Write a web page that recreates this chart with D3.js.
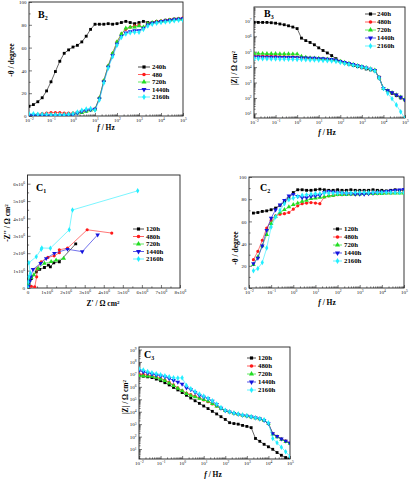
<!DOCTYPE html>
<html><head><meta charset="utf-8">
<script src="https://cdn.jsdelivr.net/npm/d3@7"></script>
<style>body{margin:0;background:#fff}svg{display:block}</style>
</head><body>
<svg id="c" width="414" height="489"></svg>
<script>
// ---------- DATA ----------
const logF = [-2,-1.8,-1.6,-1.4,-1.2,-1,-0.8,-0.6,-0.4,-0.2,0,0.2,0.4,0.6,0.8,1,1.2,1.4,1.6,1.8,2,2.2,2.4,2.6,2.8,3,3.2,3.4,3.6,3.8,4,4.2,4.4,4.6,4.8,5];
const logF_C2 = [-1.8,-1.6,-1.4,-1.2,-1,-0.8,-0.6,-0.4,-0.2,0,0.2,0.4,0.6,0.8,1,1.2,1.4,1.6,1.8,2,2.2,2.4,2.6,2.8,3,3.2,3.4,3.6,3.8,4,4.2,4.4,4.6,4.8,5];

const namesB2 = ["240h","480","720h","1440h","2160h"];
const namesB3 = ["240h","480h","720h","1440h","2160h"];
const namesC  = ["120h","480h","720h","1440h","2160h"];

// B2: phase angle (-theta, degree)
const B2_240  = [8.5,10,12.5,16,22,30,39,48,55,58,60.5,62,65,70,76,80.5,80.5,80.5,81,80.5,81,82,83,82,81,82,83,82,82,83,83,84,84.5,85,85,85];
const B2_480  = [1,1,1.5,2,2.5,3,3,3,2.5,2.5,2.5,3,4,5,5.5,6,16,31,44,55,65,72,76,78,79,80,77,81,82,83,83.5,84,84.5,85,85.5,86];
const B2_720  = [1,1,1,1,1,1,1,1,1,1.5,2,2.5,3,4,5,6,16,31,44,55,65,72,77,78,78,79,78,81,82,82.5,83,83.5,84,84.5,85,85];
const B2_1440 = [0.5,0.5,0.5,0.5,0.5,0.5,0.5,0.5,0.5,0.8,1,2.5,4,5,5.5,6,15,30,43,53,63,70,73,74,75,75,77,80,81.5,82,83,83.5,84,84.5,85,85.5];
const B2_2160 = [2,2,1.5,1.5,1.5,1,1,1,1,1.5,2,3.5,5,6,6.5,5,14,29,42,52,62,69,72,73,73.5,73.5,76,79,80.5,81.5,82,82.5,83,83.5,84,84];

// B3: log10 |Z| (ohm cm2)
const B3_240  = [6.9,6.9,6.9,6.9,6.88,6.85,6.8,6.75,6.68,6.6,6.5,5.88,5.72,5.6,5.45,5.25,5.08,4.92,4.75,4.55,4.38,4.27,4.18,4.1,4.03,3.96,3.88,3.82,3.76,3.35,2.62,2.45,2.3,2.15,2.0,1.86];
const B3_480  = [4.72,4.72,4.71,4.71,4.7,4.7,4.69,4.68,4.67,4.66,4.65,4.62,4.6,4.58,4.57,4.56,4.54,4.52,4.49,4.45,4.38,4.31,4.24,4.17,4.1,4.03,3.96,3.88,3.8,3.3,2.62,2.48,2.34,2.2,2.05,1.9];
const B3_720  = [4.88,4.88,4.88,4.87,4.87,4.87,4.86,4.86,4.86,4.85,4.85,4.7,4.64,4.6,4.58,4.56,4.54,4.52,4.49,4.45,4.38,4.31,4.24,4.17,4.1,4.03,3.96,3.88,3.8,3.3,2.62,2.48,2.34,2.2,2.05,1.9];
const B3_1440 = [4.67,4.67,4.66,4.66,4.65,4.65,4.64,4.64,4.63,4.63,4.62,4.61,4.6,4.59,4.58,4.56,4.55,4.53,4.5,4.45,4.38,4.32,4.25,4.18,4.1,4.03,3.96,3.88,3.8,3.3,2.62,2.48,2.35,2.2,2.05,1.88];
const B3_2160 = [4.55,4.55,4.54,4.54,4.53,4.53,4.52,4.52,4.51,4.51,4.5,4.49,4.48,4.47,4.46,4.45,4.43,4.42,4.4,4.36,4.3,4.24,4.18,4.12,4.06,4.0,3.94,3.86,3.75,3.3,2.62,2.3,1.95,1.55,1.1,0.68];

// C1: Nyquist, units of 1x10^6 ohm cm2
const C1_120_re  = [0.02,0.08,0.2,0.46,0.64,0.89,1.1,1.2,1.38,1.67,2.53];
const C1_120_im  = [0.05,0.25,0.54,0.93,1.07,1.18,1.32,1.22,1.45,1.51,2.54];
const C1_480_re  = [0.02,0.2,0.38,0.48,0.5,0.72,1.07,1.4,1.67,1.67,2.1,3.13,4.42];
const C1_480_im  = [0.05,0.1,0.06,0.64,1.1,1.51,1.76,1.85,2.03,2.2,2.29,3.35,3.16];
const C1_720_re  = [0.01,0.03,0.1,0.2,0.33,0.55,0.89,1.24,1.5,1.9];
const C1_720_im  = [0.02,0.25,0.45,0.6,0.75,1.13,1.42,1.51,1.6,1.7];
const C1_1440_re = [0.01,0.05,0.12,0.17,0.29,0.69,0.98,1.41,2.1,2.87,3.68];
const C1_1440_im = [0.05,0.1,0.4,0.64,1.07,1.42,1.7,2.0,2.23,2.09,3.06];
const C1_2160_re = [0.01,0.03,0.07,0.15,0.07,0.46,0.72,0.75,1.2,2.19,2.36,5.78];
const C1_2160_im = [0.05,0.35,0.65,0.85,1.45,1.8,2.23,2.3,2.29,3.35,4.49,5.59];

// C2: phase angle
const C2_120  = [67.5,68,69,69.5,70.5,72,74.5,77.5,81,86,88.5,88.5,88,88,88.5,89,88.5,88,88,88.5,88,88,88.5,88,88,88,88,88.5,88,88,87.5,88,88.5,88,88];
const C2_480  = [25.5,33,43,54,61,65,66.5,67,68,71,74,76,76.5,77,76.5,76,82,83,83.5,84,84,84.5,84.5,84.5,85,85,85,85,85,85.5,85.5,85.5,86,86,86];
const C2_720  = [21,28,38,48,58,64.5,68,70.5,73,75,76.5,78,79,80.5,81,81.5,82,83,83.5,84,84,84,84.5,84.5,84.5,85,85,85,85,85,85.5,85.5,85.5,85.5,85.5];
const C2_1440 = [22,27,38,52,63,70.5,75,79,83,84.5,82.5,81.5,81.5,82.5,83,83.5,86,87,86.5,86,85.5,85,85,84.5,84.5,84.5,85,85.5,86,86.5,87,87.5,88,88.5,89];
const C2_2160 = [15.5,17.5,23,36,55,64,70,76,79.5,81,82.5,83.5,84,84.5,85,85,85.5,85.5,85.5,85.5,85.5,85.5,85.5,86,86,86,86,86,86,86,86,86,86,86,86];

// C3: log10 |Z|
const C3_120  = [6.9,6.85,6.8,6.74,6.62,6.49,6.33,6.15,5.95,5.75,5.54,5.32,5.1,4.88,4.67,4.46,4.25,4.03,3.82,3.6,3.38,3.12,3.05,3.0,2.9,2.82,2.72,1.85,1.62,1.38,1.18,0.98,0.72,0.5,0.32,0.2];
const C3_480  = [7.05,7.0,6.93,6.88,6.78,6.68,6.55,6.35,6.15,5.92,5.7,5.5,5.38,5.25,5.1,4.95,4.8,4.62,4.45,4.25,4.1,3.98,3.88,3.8,3.72,3.66,3.58,3.5,3.42,3.3,3.05,2.25,2.02,1.82,1.65,1.49];
const C3_720  = [6.9,6.88,6.85,6.83,6.75,6.62,6.5,6.3,6.1,5.88,5.68,5.45,5.3,5.18,5.07,4.97,4.85,4.65,4.45,4.27,4.08,3.98,3.88,3.8,3.72,3.66,3.58,3.5,3.42,3.3,3.05,2.2,1.98,1.78,1.6,1.45];
const C3_1440 = [7.3,7.2,7.1,7.02,6.95,6.89,6.8,6.66,6.52,6.38,6.22,5.92,5.78,5.55,5.32,5.18,5.05,4.85,4.6,4.3,4.08,3.98,3.88,3.8,3.72,3.66,3.58,3.5,3.42,3.3,3.05,2.25,2.02,1.82,1.65,1.49];
const C3_2160 = [7.45,7.35,7.22,7.13,7.05,6.97,6.88,6.8,6.72,6.7,6.72,6.1,5.85,5.62,5.42,5.25,5.08,4.88,4.62,4.33,4.12,4.0,3.9,3.82,3.74,3.67,3.6,3.52,3.44,3.35,3.1,1.85,1.5,1.15,0.78,0.41];

// tick values
const decadeTicks = [-2,-1,0,1,2,3,4,5];
const phaseTicks = [0,20,40,60,80,100];
const B3_logTicks = [1,2,3,4,5,6,7];
const C3_logTicks = [1,2,3,4,5,6,7,8,9];
const C1_xTicks = [0,1,2,3,4,5,6,7,8];
const C1_yTicks = [0,1,2,3,4,5,6];
const C1_exp = "6";

// ---------- STYLE ----------
const colors = ["#000000","#ff1a1a","#22dd22","#1414dd","#22eeff"];
const symbols = [
  {s:d3.symbolSquare, r:0, size:8},
  {s:d3.symbolCircle, r:0, size:8},
  {s:d3.symbolTriangle, r:0, size:9},
  {s:d3.symbolTriangle, r:180, size:9},
  {s:d3.symbolDiamond, r:0, size:9}
];
const SERIF = "'Liberation Serif','Times New Roman',serif";
const svg = d3.select("#c");

const minorLog = [];
for (let n=-2;n<5;n++) for (let m=2;m<=9;m++) minorLog.push(n+Math.log10(m));

function sup(sel, fn){
  sel.selectAll(".tick text").each(function(d){
    const p = fn(d); const t = d3.select(this);
    t.text(p[0]);
    if (p[1] !== "") t.append("tspan").attr("dy","-0.45em").attr("font-size","0.72em").text(p[1]);
  });
}

function panel(cfg){
  const g = svg.append("g");
  const x = d3.scaleLinear().domain(cfg.xd).range([cfg.l,cfg.r]);
  const y = d3.scaleLinear().domain(cfg.yd).range([cfg.b,cfg.t]);
  const clipId = "clip"+cfg.id;
  svg.append("clipPath").attr("id",clipId).append("rect")
    .attr("x",cfg.l).attr("y",cfg.t).attr("width",cfg.r-cfg.l).attr("height",cfg.b-cfg.t);

  const gx = g.append("g").attr("transform",`translate(0,${cfg.b})`)
    .call(d3.axisBottom(x).tickValues(cfg.xt).tickSize(-3).tickPadding(2.5));
  g.append("g").attr("transform",`translate(0,${cfg.b})`)
    .call(d3.axisBottom(x).tickValues(cfg.xm).tickSize(-1.6).tickFormat(""));
  const gy = g.append("g").attr("transform",`translate(${cfg.l},0)`)
    .call(d3.axisLeft(y).tickValues(cfg.yt).tickSize(-3).tickPadding(2.5));
  g.append("g").attr("transform",`translate(${cfg.l},0)`)
    .call(d3.axisLeft(y).tickValues(cfg.ym).tickSize(-1.6).tickFormat(""));
  g.selectAll(".domain").remove();
  g.selectAll(".tick line").attr("stroke","#222").attr("stroke-width",0.6);
  g.selectAll(".tick text").attr("font-family",SERIF).attr("font-size",5).attr("fill","#111");
  sup(gx, cfg.xf); sup(gy, cfg.yf);

  g.append("rect").attr("x",cfg.l).attr("y",cfg.t).attr("width",cfg.r-cfg.l).attr("height",cfg.b-cfg.t)
    .attr("fill","none").attr("stroke","#222").attr("stroke-width",0.9);

  const dg = g.append("g").attr("clip-path",`url(#${clipId})`);
  cfg.series.forEach((s,i)=>{
    const pts = s.xs.map((v,k)=>[v,s.ys[k]]);
    dg.append("path").datum(pts)
      .attr("d", d3.line().x(d=>x(d[0])).y(d=>y(d[1])))
      .attr("fill","none").attr("stroke",colors[i]).attr("stroke-width",0.6);
    const sym = symbols[i];
    dg.selectAll(null).data(pts).enter().append("path")
      .attr("d", d3.symbol().type(sym.s).size(sym.size))
      .attr("transform", d=>`translate(${x(d[0])},${y(d[1])}) rotate(${sym.r})`)
      .attr("fill",colors[i]);
  });

  cfg.names.forEach((n,i)=>{
    const yy = cfg.leg.y[i];
    g.append("line").attr("x1",cfg.leg.x1).attr("x2",cfg.leg.x2).attr("y1",yy).attr("y2",yy)
      .attr("stroke",colors[i]).attr("stroke-width",0.7);
    const sym = symbols[i];
    g.append("path").attr("d", d3.symbol().type(sym.s).size(sym.size+2))
      .attr("transform",`translate(${(cfg.leg.x1+cfg.leg.x2)/2},${yy}) rotate(${sym.r})`)
      .attr("fill",colors[i]);
    g.append("text").attr("x",cfg.leg.tx).attr("y",yy).attr("dy","0.34em")
      .attr("font-family",SERIF).attr("font-weight","bold").attr("font-size",6.8).text(n);
  });

  const pl = g.append("text").attr("x",cfg.pl[0]).attr("y",cfg.pl[1])
    .attr("font-family",SERIF).attr("font-weight","bold").attr("font-size",10);
  pl.append("tspan").text(cfg.plab[0]);
  pl.append("tspan").attr("dy",2).attr("font-size",6).text(cfg.plab[1]);

  const xt = g.append("text").attr("x",cfg.xtp[0]).attr("y",cfg.xtp[1]).attr("text-anchor","middle")
    .attr("font-family",SERIF).attr("font-weight","bold").attr("font-size",7.5);
  cfg.xtitle(xt);
  const yt = g.append("text").attr("transform",`translate(${cfg.ytp[0]},${cfg.ytp[1]}) rotate(-90)`)
    .attr("text-anchor","middle")
    .attr("font-family",SERIF).attr("font-weight","bold").attr("font-size",7.5);
  cfg.ytitle(yt);
}

const decFmt = d => ["10", String(d).replace("-","\u2212")];
const plainFmt = d => [String(d), ""];
const expFmt = d => d===0 ? ["0",""] : [d+"x10", C1_exp];

const fTitle = t => { t.append("tspan").attr("font-style","italic").text("f"); t.append("tspan").text(" / Hz"); };
const phTitle = t => { t.text("-\u03B8 / degree"); };
const zTitle = t => { t.append("tspan").text("|Z| / \u03A9 cm"); t.append("tspan").attr("dy",-2.5).attr("font-size",5).text("2"); };
const reTitle = t => { t.append("tspan").text("Z' / \u03A9  cm"); t.append("tspan").attr("dy",-2.5).attr("font-size",5).text("2"); };
const imTitle = t => { t.append("tspan").text("-Z'' / \u03A9 cm"); t.append("tspan").attr("dy",-2.5).attr("font-size",5).text("2"); };

const phaseMinor = [10,30,50,70,90];
const logMinorB3 = [];
for (let n=0;n<8;n++) for (let m=2;m<=9;m++){ const v=n+Math.log10(m); if (v>0.7 && v<7.9) logMinorB3.push(v); }
const logMinorC3 = [];
for (let n=0;n<10;n++) for (let m=2;m<=9;m++){ const v=n+Math.log10(m); if (v>0.2 && v<9.2) logMinorC3.push(v); }

panel({id:"B2", l:29, r:183, t:2, b:116, xd:[-2,5], yd:[0,100],
  xt:decadeTicks, xm:minorLog, yt:phaseTicks, ym:phaseMinor, xf:decFmt, yf:plainFmt,
  series:[B2_240,B2_480,B2_720,B2_1440,B2_2160].map(v=>({xs:logF, ys:v})),
  names:namesB2, leg:{x1:138,x2:150,tx:152,y:[67,74.5,82,89.5,97]},
  pl:[38,18], plab:["B","2"], xtp:[106,130], ytp:[14,60], xtitle:fTitle, ytitle:phTitle});

panel({id:"B3", l:254, r:405, t:7, b:118, xd:[-2,5], yd:[0.7,7.9],
  xt:decadeTicks, xm:minorLog, yt:B3_logTicks, ym:logMinorB3, xf:decFmt, yf:decFmt,
  series:[B3_240,B3_480,B3_720,B3_1440,B3_2160].map(v=>({xs:logF, ys:v})),
  names:namesB3, leg:{x1:365,x2:376,tx:377,y:[14,22,30,38,46]},
  pl:[264,17], plab:["B","3"], xtp:[327,135], ytp:[237,68], xtitle:fTitle, ytitle:zTitle});

panel({id:"C1", l:27.5, r:180, t:175, b:288, xd:[0,8], yd:[0,6.5],
  xt:C1_xTicks, xm:[0.5,1.5,2.5,3.5,4.5,5.5,6.5,7.5], yt:C1_yTicks, ym:[0.5,1.5,2.5,3.5,4.5,5.5], xf:expFmt, yf:expFmt,
  series:[
    {xs:C1_120_re, ys:C1_120_im},{xs:C1_480_re, ys:C1_480_im},{xs:C1_720_re, ys:C1_720_im},
    {xs:C1_1440_re, ys:C1_1440_im},{xs:C1_2160_re, ys:C1_2160_im}],
  names:namesC, leg:{x1:133,x2:144,tx:146,y:[229,236.5,244,251.5,259]},
  pl:[36,191], plab:["C","1"], xtp:[103,306], ytp:[10,223], xtitle:reTitle, ytitle:imTitle});

panel({id:"C2", l:249, r:404, t:177, b:288, xd:[-2,5], yd:[0,100],
  xt:decadeTicks, xm:minorLog, yt:phaseTicks, ym:phaseMinor, xf:decFmt, yf:plainFmt,
  series:[C2_120,C2_480,C2_720,C2_1440,C2_2160].map(v=>({xs:logF_C2, ys:v})),
  names:namesC, leg:{x1:333,x2:342,tx:344,y:[229,237,245,253,261]},
  pl:[260,191], plab:["C","2"], xtp:[327,305], ytp:[238,248], xtitle:fTitle, ytitle:phTitle});

panel({id:"C3", l:139, r:290, t:347, b:459, xd:[-2,5], yd:[0.2,9.2],
  xt:decadeTicks, xm:minorLog, yt:C3_logTicks, ym:logMinorC3, xf:decFmt, yf:decFmt,
  series:[C3_120,C3_480,C3_720,C3_1440,C3_2160].map(v=>({xs:logF, ys:v})),
  names:namesC, leg:{x1:247,x2:256,tx:258,y:[358,366,374,382,390]},
  pl:[144,358], plab:["C","3"], xtp:[213,477], ytp:[128,397], xtitle:fTitle, ytitle:zTitle});
</script>
</body></html>
